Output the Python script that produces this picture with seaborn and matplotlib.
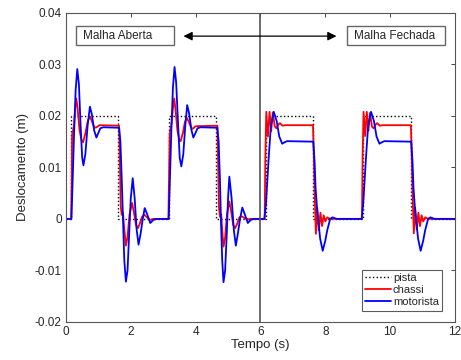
"""
Deslocamento da pista, chassi e motorista: malha aberta vs malha fechada.
"""

import pandas as pd
import matplotlib
matplotlib.use("Agg")
import matplotlib.pyplot as plt
from matplotlib.patches import Rectangle
import seaborn as sns

# pista (perfil da estrada, degraus)
pista_t = [0, 0.17, 0.17, 1.62, 1.62, 3.17, 3.17, 4.62, 4.62,
           6.16, 6.16, 7.61, 7.61, 9.16, 9.16, 10.64, 10.64, 12]
pista_y = [0, 0, 0.02, 0.02, 0, 0, 0.02, 0.02, 0,
           0, 0.02, 0.02, 0, 0, 0.02, 0.02, 0, 0]

# chassi
chassi_t = [
    0, 0.16, 0.18, 0.19, 0.22, 0.25, 0.28, 0.32, 0.36, 0.42, 0.48, 0.53,
    0.60, 0.67, 0.74, 0.80, 0.88, 0.95, 1.03, 1.64,
    1.66, 1.69, 1.72, 1.76, 1.80, 1.85, 1.90, 1.96, 2.04, 2.10, 2.16, 2.22,
    2.28, 2.35, 2.42, 2.50, 2.60, 2.70, 3.16,
    3.18, 3.20, 3.23, 3.26, 3.30, 3.34, 3.38, 3.44, 3.50, 3.54, 3.61, 3.67,
    3.72, 3.79, 3.86, 3.91, 4.00, 4.67,
    4.69, 4.72, 4.75, 4.79, 4.82, 4.86, 4.91, 4.97, 5.04, 5.10, 5.16, 5.22,
    5.29, 5.35, 5.42, 5.50, 5.62, 5.72, 6.13,
    6.15, 6.18, 6.23, 6.28, 6.33, 6.38, 6.44, 6.49, 6.55, 6.60, 6.68, 6.75,
    7.62,
    7.65, 7.68, 7.71, 7.75, 7.80, 7.85, 7.90, 7.95, 8.00, 8.06, 8.15, 9.13,
    9.15, 9.18, 9.23, 9.28, 9.33, 9.38, 9.44, 9.49, 9.55, 9.60, 9.68, 9.75,
    10.64,
    10.67, 10.70, 10.73, 10.77, 10.82, 10.87, 10.92, 10.97, 11.02, 11.08,
    11.17, 12,
]
chassi_y = [
    0, 0, 0.008, 0.0163, 0.0172, 0.0183, 0.021, 0.0234, 0.0215, 0.0172,
    0.0153, 0.0149, 0.0166, 0.0189, 0.0199, 0.019, 0.0177, 0.0178, 0.0182,
    0.0181,
    0.012, 0.0025, 0.0008, 0.0012, -0.002, -0.0052, -0.0035, 0.0008, 0.0031,
    0.0012, -0.0012, -0.0018, -0.0009, 0.0004, 0.0008, 0.0003, -0.0002, 0, 0,
    0.008, 0.0165, 0.0176, 0.0186, 0.0215, 0.0234, 0.0212, 0.0171, 0.0153,
    0.0151, 0.0168, 0.0188, 0.0197, 0.0189, 0.0177, 0.0175, 0.018, 0.0181,
    0.012, 0.0022, 0.0004, 0.0008, -0.0022, -0.0054, -0.0036, 0.001, 0.0034,
    0.0013, -0.0012, -0.0018, -0.0008, 0.0003, 0.0005, 0.0002, -0.0001, 0, 0,
    0.012, 0.0208, 0.016, 0.0208, 0.017, 0.0207, 0.018, 0.0176, 0.0183,
    0.0186, 0.0181, 0.0182, 0.0182,
    0.011, 0.003, -0.0029, 0.0022, -0.0022, 0.0012, -0.0014, 0.0007, -0.0005,
    0.0003, 0, 0,
    0.012, 0.0208, 0.0161, 0.0208, 0.0171, 0.0206, 0.0179, 0.0176, 0.0183,
    0.0186, 0.0181, 0.0182, 0.0182,
    0.011, 0.003, -0.0028, 0.0022, -0.0021, 0.0012, -0.0014, 0.0007, -0.0005,
    0.0003, 0, 0,
]

# motorista
motorista_t = [
    0, 0.17, 0.20, 0.25, 0.30, 0.35, 0.40, 0.45, 0.50, 0.54, 0.60, 0.67,
    0.74, 0.80, 0.87, 0.94, 1.00, 1.06, 1.15, 1.64,
    1.68, 1.72, 1.76, 1.80, 1.85, 1.90, 1.95, 2.00, 2.06, 2.12, 2.18, 2.24,
    2.30, 2.37, 2.43, 2.50, 2.60, 2.70, 2.80, 3.17,
    3.20, 3.25, 3.30, 3.35, 3.40, 3.46, 3.51, 3.56, 3.62, 3.68, 3.74, 3.80,
    3.87, 3.93, 3.99, 4.06, 4.15, 4.67,
    4.71, 4.75, 4.78, 4.82, 4.86, 4.91, 4.96, 5.00, 5.04, 5.11, 5.18, 5.24,
    5.30, 5.37, 5.44, 5.51, 5.61, 5.70, 5.80, 6.12,
    6.17, 6.25, 6.32, 6.41, 6.50, 6.58, 6.67, 6.75, 6.82, 7.63,
    7.67, 7.70, 7.74, 7.84, 7.92, 8.00, 8.06, 8.15, 8.22, 8.35, 9.12,
    9.17, 9.25, 9.32, 9.41, 9.50, 9.58, 9.67, 9.75, 9.82, 10.65,
    10.69, 10.72, 10.76, 10.86, 10.94, 11.02, 11.08, 11.17, 11.24, 11.37, 12,
]
motorista_y = [
    0, 0, 0.006, 0.0163, 0.025, 0.0291, 0.0262, 0.0185, 0.012, 0.0104,
    0.0126, 0.0182, 0.0218, 0.0203, 0.0172, 0.0158, 0.0167, 0.0176, 0.0178,
    0.0177,
    0.015, 0.008, 0.0, -0.008, -0.0122, -0.01, -0.003, 0.004, 0.0079, 0.004,
    -0.002, -0.005, -0.003, 0.0, 0.0021, 0.001, -0.0008, -0.0002, 0.0, 0.0,
    0.0062, 0.0168, 0.0255, 0.0295, 0.0265, 0.0182, 0.0118, 0.0102, 0.0126,
    0.018, 0.0221, 0.0205, 0.0173, 0.0158, 0.0166, 0.0176, 0.0178, 0.0177,
    0.015, 0.0078, 0.0, -0.008, -0.0123, -0.01, -0.003, 0.004, 0.0082, 0.004,
    -0.0022, -0.0052, -0.003, 0.0, 0.0022, 0.001, -0.0008, -0.0002, 0.0, 0.0,
    0.003, 0.0115, 0.018, 0.0208, 0.019, 0.016, 0.0146, 0.0149, 0.0151, 0.015,
    0.011, 0.006, 0.0024, -0.0038, -0.0062, -0.0042, -0.0022, 0.0, 0.0003,
    0.0, 0.0,
    0.003, 0.0115, 0.018, 0.0208, 0.019, 0.016, 0.0146, 0.0149, 0.0151, 0.015,
    0.011, 0.006, 0.0024, -0.0038, -0.0062, -0.0042, -0.0022, 0.0, 0.0003,
    0.0, 0.0,
]

x_ticks = [0, 2, 4, 6, 8, 10, 12]
y_ticks = [-0.02, -0.01, 0, 0.01, 0.02, 0.03, 0.04]


def main() -> None:
    sns.set_style("white")
    plt.rcParams["font.family"] = ["Liberation Sans", "DejaVu Sans"]

    fig = plt.figure(figsize=(4.61, 3.6), dpi=100)
    ax = fig.add_axes([0.143, 0.106, 0.844, 0.858])

    df_pista = pd.DataFrame({"t": pista_t, "y": pista_y})
    df_chassi = pd.DataFrame({"t": chassi_t, "y": chassi_y})
    df_mot = pd.DataFrame({"t": motorista_t, "y": motorista_y})

    sns.lineplot(data=df_pista, x="t", y="y", ax=ax, sort=False,
                 estimator=None, color="black", linestyle=":", linewidth=1.0,
                 label="pista")
    sns.lineplot(data=df_chassi, x="t", y="y", ax=ax, sort=False,
                 estimator=None, color="#ff0000", linewidth=1.3,
                 label="chassi")
    sns.lineplot(data=df_mot, x="t", y="y", ax=ax, sort=False,
                 estimator=None, color="#0000ff", linewidth=1.3,
                 label="motorista")

    # divisao entre malha aberta e malha fechada
    ax.axvline(6, color="#555555", linewidth=1.2)
    ax.annotate("", xy=(3.54, 0.0355), xytext=(8.43, 0.0355),
                arrowprops=dict(arrowstyle="<|-|>", color="black", lw=0.9,
                                mutation_scale=13))
    for x0, x1 in [(0.31, 3.32), (8.68, 11.69)]:
        ax.add_patch(Rectangle((x0, 0.03372), x1 - x0, 0.00378,
                               facecolor="white", edgecolor="#666666",
                               linewidth=1.0, zorder=4))
    ax.text(0.53, 0.03545, "Malha Aberta", ha="left", va="center",
            fontsize=8.5, zorder=5)
    ax.text(8.9, 0.03545, "Malha Fechada", ha="left", va="center",
            fontsize=8.5, zorder=5)

    ax.set_xlim(0, 12)
    ax.set_ylim(-0.02, 0.04)
    ax.set_xticks(x_ticks)
    ax.set_yticks(y_ticks)
    ax.set_yticklabels([f"{v:g}" for v in y_ticks])
    ax.tick_params(direction="in", top=True, right=True, length=3,
                   width=0.6, labelsize=8.5, colors="#262626", pad=3)
    for s in ax.spines.values():
        s.set_color("#555555")
        s.set_linewidth(0.8)
    ax.set_xlabel("Tempo (s)", fontsize=9.5, labelpad=1)
    ax.set_ylabel("Deslocamento (m)", fontsize=9.5, labelpad=4)

    leg = ax.legend(loc="lower right", bbox_to_anchor=(0.967, 0.036),
                    fontsize=8, frameon=True, fancybox=False,
                    borderpad=0.3, handlelength=2.3, handletextpad=0.2,
                    labelspacing=0.2, borderaxespad=0.0)
    leg.get_frame().set_edgecolor("#333333")
    leg.get_frame().set_linewidth(0.8)

    fig.savefig("out.png", dpi=100)


if __name__ == "__main__":
    main()
